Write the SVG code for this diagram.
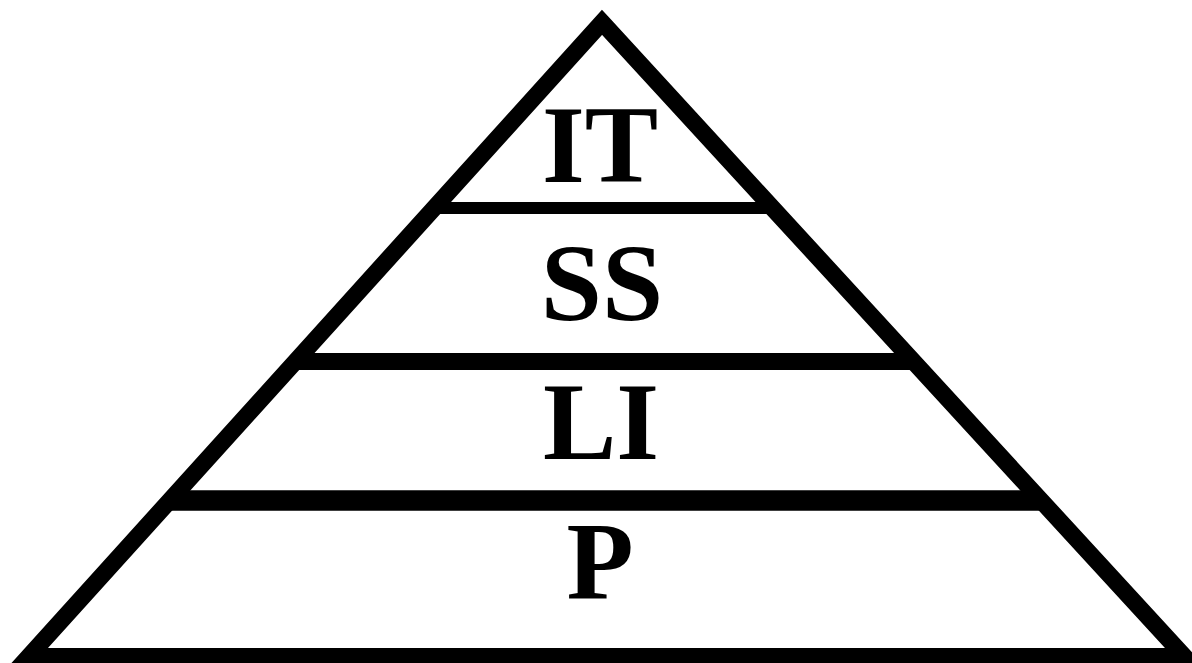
<svg xmlns="http://www.w3.org/2000/svg" width="1192" height="663" viewBox="0 0 1192 663">
  <style>
    .edge { fill: none; stroke: #000; stroke-linejoin: miter; stroke-miterlimit: 10; }
    .lbl { font-weight: 700; font-size: 110px; fill: #000; text-anchor: middle; }
  </style>
  <rect x="0" y="0" width="1192" height="663" fill="#ffffff"/>
  <g id="pyramid">
    <polygon class="edge" stroke-width="17" points="602,22.3 1184.3,656.5 28.8,656.5"/>
  </g>
  <g id="dividers">
    <line class="edge" stroke-width="12" x1="434" y1="208" x2="772" y2="208"/>
    <line class="edge" stroke-width="17" x1="295" y1="361.5" x2="913" y2="361.5"/>
    <line class="edge" stroke-width="20.5" x1="169" y1="500.5" x2="1041" y2="500.5"/>
  </g>
  <g id="layer-IT"><text class="lbl" font-family="Liberation Serif, serif" x="600" y="182">IT</text></g>
  <g id="layer-SS"><text class="lbl" font-family="Liberation Serif, serif" x="602" y="320">SS</text></g>
  <g id="layer-LI"><text class="lbl" font-family="Liberation Serif, serif" x="601" y="459">LI</text></g>
  <g id="layer-P"><text class="lbl" font-family="Liberation Serif, serif" x="600" y="598">P</text></g>
</svg>
